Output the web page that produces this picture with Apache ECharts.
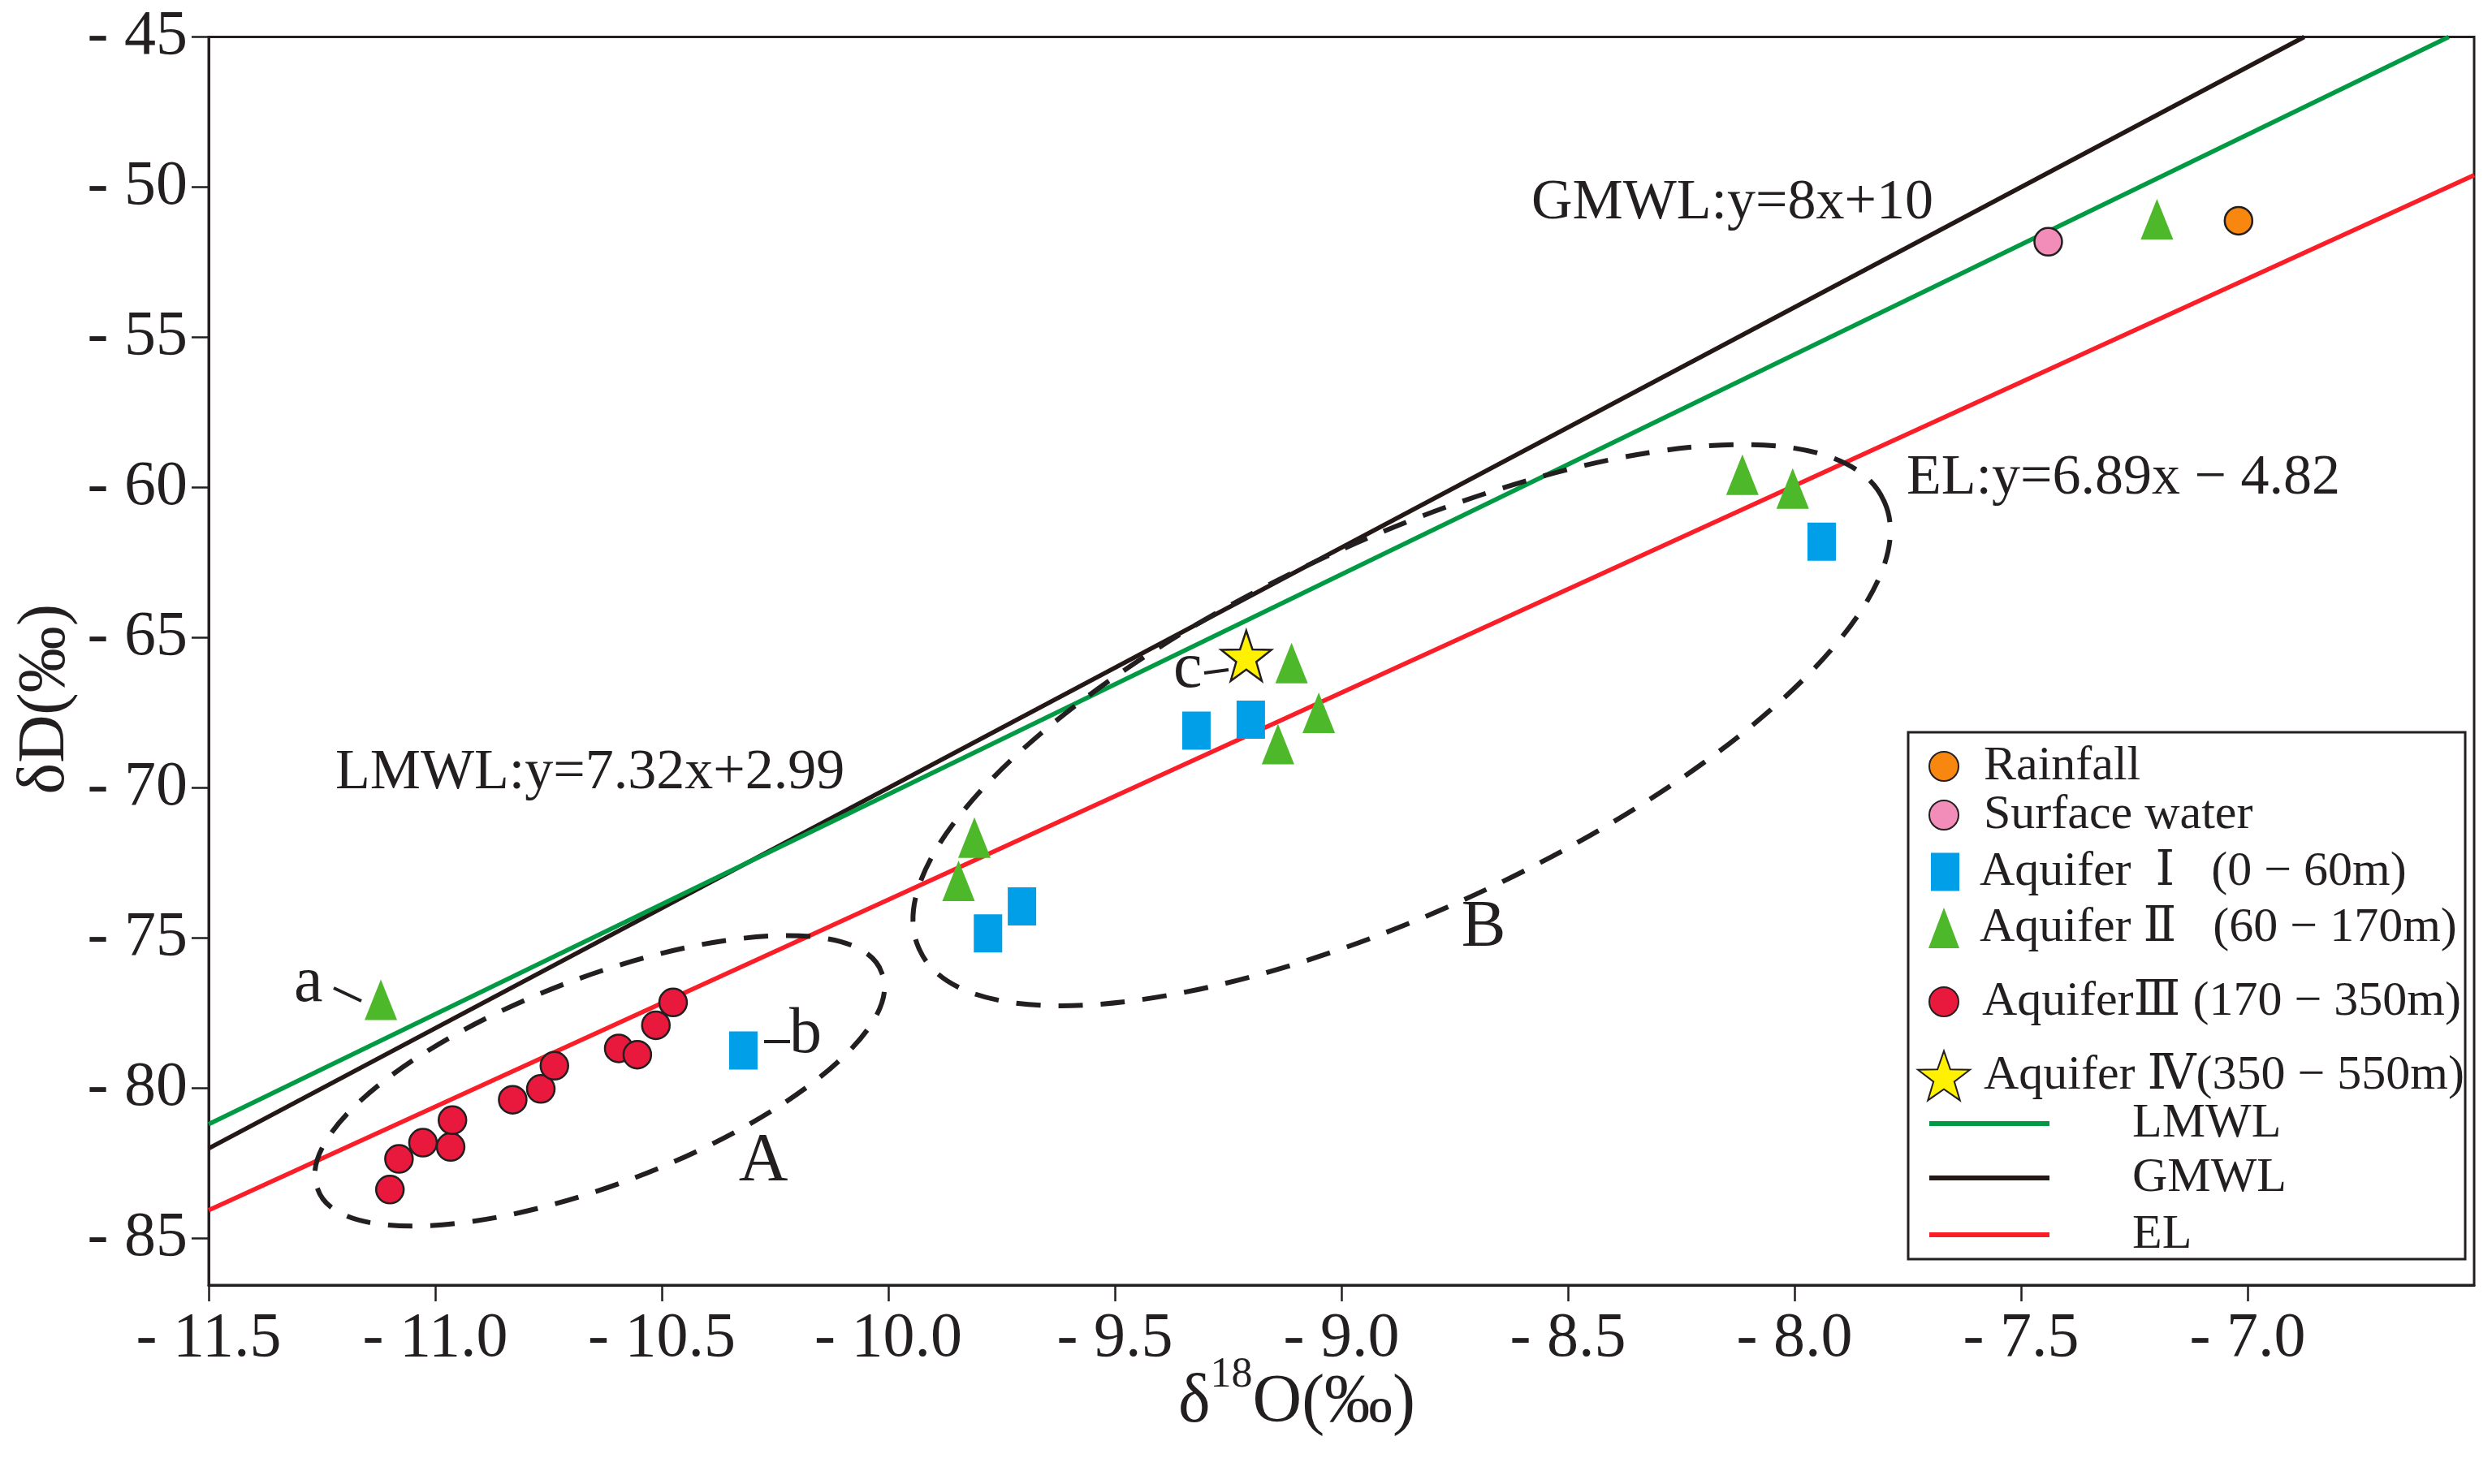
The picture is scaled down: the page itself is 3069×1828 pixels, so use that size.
<!DOCTYPE html>
<html>
<head>
<meta charset="utf-8">
<script src="https://cdn.jsdelivr.net/npm/echarts@6/dist/echarts.min.js"></script>
<style>
html,body{margin:0;padding:0;background:#fff;}
#chart{width:3069px;height:1828px;}
</style>
</head>
<body>
<div id="chart"></div>
<script>
// ---------- data ----------
const xTicks = [-11.5, -11.0, -10.5, -10.0, -9.5, -9.0, -8.5, -8.0, -7.5, -7.0];
const yTicks = [-85, -80, -75, -70, -65, -60, -55, -50, -45];

const rainfall = [[-7.02, -51.12]];
const surfaceWater = [[-7.44, -51.82]];
const aquiferI = [[-10.32, -78.74], [-9.78, -74.84], [-9.705, -73.94], [-9.32, -68.09], [-9.20, -67.73], [-7.94, -61.80]];
const aquiferII = [[-11.12, -77.05], [-9.845, -73.09], [-9.81, -71.65], [-9.14, -68.54], [-9.11, -65.84], [-9.05, -67.50], [-8.115, -59.57], [-8.004, -60.03], [-7.20, -51.07]];
const aquiferIII = [[-11.10, -83.37], [-11.08, -82.35], [-11.027, -81.81], [-10.966, -81.95], [-10.962, -81.06], [-10.829, -80.38], [-10.767, -80.02], [-10.737, -79.25], [-10.595, -78.67], [-10.554, -78.88], [-10.513, -77.90], [-10.475, -77.14]];
const aquiferIV = [[-9.21, -65.6]];

const gmwl = [[-11.5, -82.0], [-6.875, -45.0]];
const lmwl = [[-11.5, -81.19], [-6.556, -45.0]];
const el = [[-11.5, -84.06], [-6.5, -49.6]];

const groupCenters = [[-10.637, -79.75], [-8.867, -67.91]]; // groups A and B

const seriesNames = ['Rainfall', 'Surface water', 'Aquifer  Ⅰ   (0 − 60m)', 'Aquifer Ⅱ   (60 − 170m)',
  'AquiferⅢ (170 − 350m)', 'Aquifer Ⅳ(350 − 550m)', 'LMWL', 'GMWL', 'EL'];

// ---------- styling ----------
const FONT = "'Liberation Serif', 'Times New Roman', 'DejaVu Serif', 'Noto Sans CJK SC', serif";
const INK = '#231f20';
const ELLIPSES = [{a: 372, b: 125, rot: 21}, {a: 655, b: 226, rot: 25}];
const STAR = 'path://M50 0 L61.76 33.82 L97.55 34.55 L69.02 56.18 L79.39 90.45 L50 70 L20.61 90.45 L30.98 56.18 L2.45 34.55 L38.24 33.82 Z';
const LW = 5.5;

const chart = echarts.init(document.getElementById('chart'));

function legend(name, left, top, iw, ih, pad, extra) {
  return Object.assign({
    data: [name], orient: 'vertical', left: left, top: top,
    itemWidth: iw, itemHeight: ih, padding: 0, itemGap: 0, selectedMode: false,
    textStyle: {fontFamily: FONT, fontSize: 60, lineHeight: 60, color: INK, padding: pad}
  }, extra || {});
}
const lineLegendExtra = {icon: 'rect', itemStyle: {borderWidth: 0}};

function gtext(text, x, y, size, align) {
  return {type: 'text', x: x, y: y, z: 20,
    style: {text: text, fontFamily: FONT, fontSize: size, fill: INK, verticalAlign: 'middle', align: align || 'left'}};
}
function gline(x1, y1, x2, y2) {
  return {type: 'line', z: 20, shape: {x1: x1, y1: y1, x2: x2, y2: y2}, style: {stroke: INK, lineWidth: 4}};
}

const option = {
  animation: false,
  backgroundColor: '#fff',
  textStyle: {fontFamily: FONT},
  grid: {left: 257, right: 22, top: 45.5, bottom: 245, show: true, borderColor: INK, borderWidth: 3, outerBoundsMode: 'none', containLabel: false},
  xAxis: {
    type: 'value', min: -11.5, max: -6.5,
    name: '{d|δ}{s|18}{o|O(‰)}', nameLocation: 'middle', nameGap: 85, nameMoveOverlap: false,
    nameTextStyle: {
      fontFamily: FONT, fontSize: 84, color: INK, padding: [0, 110, 0, 0],
      rich: {
        d: {fontFamily: FONT, fontSize: 84, lineHeight: 84, padding: [38, 0, 0, 0], color: INK},
        s: {fontFamily: FONT, fontSize: 52, lineHeight: 52, verticalAlign: 'top', color: INK},
        o: {fontFamily: FONT, fontSize: 84, lineHeight: 84, padding: [38, 0, 0, 0], color: INK}
      }
    },
    axisLine: {show: true, onZero: false, lineStyle: {color: INK, width: 3}},
    axisTick: {show: true, inside: false, length: 20, customValues: xTicks, lineStyle: {color: INK, width: 2.5}},
    axisLabel: {show: true, customValues: xTicks, margin: 28, fontFamily: FONT, fontSize: 78, color: INK,
      formatter: function (v) { return '- ' + Math.abs(v).toFixed(1); }},
    splitLine: {show: false}
  },
  yAxis: {
    type: 'value', min: -86.55, max: -45,
    name: 'δD(‰)', nameLocation: 'middle', nameRotate: 90, nameGap: 160, nameMoveOverlap: false,
    nameTextStyle: {fontFamily: FONT, fontSize: 82, color: INK, padding: [0, 94, 0, 0]},
    axisLine: {show: true, onZero: false, lineStyle: {color: INK, width: 3}},
    axisTick: {show: true, inside: false, length: 21, customValues: yTicks, lineStyle: {color: INK, width: 2.5}},
    axisLabel: {show: true, customValues: yTicks, margin: 26, fontFamily: FONT, fontSize: 78, color: INK,
      formatter: function (v) { return '- ' + Math.abs(v); }},
    splitLine: {show: false}
  },
  legend: [
    legend(seriesNames[0], 2375, 914, 36, 36, [0, 0, 0, 26]),
    legend(seriesNames[1], 2375, 974, 36, 36, [0, 0, 0, 26]),
    legend(seriesNames[2], 2378, 1044, 35, 47, [0, 0, 0, 20]),
    legend(seriesNames[3], 2375, 1110, 38, 50, [6, 0, 0, 20]),
    legend(seriesNames[4], 2375, 1198, 36, 36, [12, 0, 0, 24]),
    legend(seriesNames[5], 2361, 1284, 64, 64, [0, 0, 22, 12]),
    legend(seriesNames[6], 2376, 1346, 148, 6, [16, 0, 0, 97], lineLegendExtra),
    legend(seriesNames[7], 2376, 1411, 148, 6, [20, 0, 0, 97], lineLegendExtra),
    legend(seriesNames[8], 2376, 1490, 148, 6, [0, 0, 2, 97], lineLegendExtra)
  ],
  graphic: [
    {type: 'rect', z: 1, shape: {x: 2350, y: 902, width: 686, height: 649}, style: {fill: '#fff', stroke: INK, lineWidth: 3}},
    gtext('GMWL:y=8x+10', 1886, 251, 70),
    gtext('LMWL:y=7.32x+2.99', 413, 953, 70),
    gtext('EL:y=6.89x − 4.82', 2348, 590, 70),
    gtext('a', 362, 1212, 80),
    gline(411, 1217, 445, 1233),
    gtext('b', 972, 1275, 80),
    gline(941, 1283, 973, 1283),
    gtext('c', 1445, 825, 80),
    gline(1483, 829, 1513, 825),
    gtext('A', 940, 1432, 84, 'center'),
    gtext('B', 1827, 1143, 82, 'center')
  ],
  series: [
    {name: seriesNames[7], type: 'line', data: gmwl, symbol: 'none', silent: true, z: 2,
      lineStyle: {color: '#231815', width: LW}, itemStyle: {color: '#231815'}},
    {name: seriesNames[6], type: 'line', data: lmwl, symbol: 'none', silent: true, z: 2,
      lineStyle: {color: '#009944', width: LW}, itemStyle: {color: '#009944'}},
    {name: seriesNames[8], type: 'line', data: el, symbol: 'none', silent: true, z: 2,
      lineStyle: {color: '#f91e27', width: LW}, itemStyle: {color: '#f91e27'}},
    {name: seriesNames[0], type: 'scatter', data: rainfall, symbol: 'circle', symbolSize: 34, z: 5,
      itemStyle: {color: '#f7870f', borderColor: INK, borderWidth: 2.5, opacity: 1}},
    {name: seriesNames[1], type: 'scatter', data: surfaceWater, symbol: 'circle', symbolSize: 34, z: 5,
      itemStyle: {color: '#f28db9', borderColor: INK, borderWidth: 2.5, opacity: 1}},
    {name: seriesNames[2], type: 'scatter', data: aquiferI, symbol: 'rect', symbolSize: [35, 47], z: 5,
      itemStyle: {color: '#009fe8', opacity: 1}},
    {name: seriesNames[3], type: 'scatter', data: aquiferII, symbol: 'triangle', symbolSize: [40, 50], z: 5,
      itemStyle: {color: '#4eb82b', opacity: 1}},
    {name: seriesNames[4], type: 'scatter', data: aquiferIII, symbol: 'circle', symbolSize: 34, z: 5,
      itemStyle: {color: '#e8193c', borderColor: INK, borderWidth: 2.5, opacity: 1}},
    {name: seriesNames[5], type: 'scatter', data: aquiferIV, symbol: STAR, symbolSize: [62, 62], z: 5,
      itemStyle: {color: '#fff100', borderColor: INK, borderWidth: 2.5, opacity: 1}},
    {name: 'groups', type: 'custom', data: groupCenters, silent: true, z: 6,
      encode: {x: 0, y: 1},
      renderItem: function (params, api) {
        const s = ELLIPSES[params.dataIndex];
        const c = api.coord([api.value(0), api.value(1)]);
        const t = s.rot * Math.PI / 180;
        const ux = Math.cos(t) * s.a, uy = -Math.sin(t) * s.a;
        const p1x = (c[0] + ux).toFixed(1), p1y = (c[1] + uy).toFixed(1);
        const p2x = (c[0] - ux).toFixed(1), p2y = (c[1] - uy).toFixed(1);
        const r = -s.rot;
        const d = 'M' + p1x + ' ' + p1y +
          ' A' + s.a + ' ' + s.b + ' ' + r + ' 1 0 ' + p2x + ' ' + p2y +
          ' A' + s.a + ' ' + s.b + ' ' + r + ' 1 0 ' + p1x + ' ' + p1y + ' Z';
        return {type: 'path', shape: {pathData: d},
          style: {fill: 'none', stroke: INK, lineWidth: 6, lineDash: [30, 22]}};
      }
    }
  ]
};
chart.setOption(option);
</script>
</body>
</html>
